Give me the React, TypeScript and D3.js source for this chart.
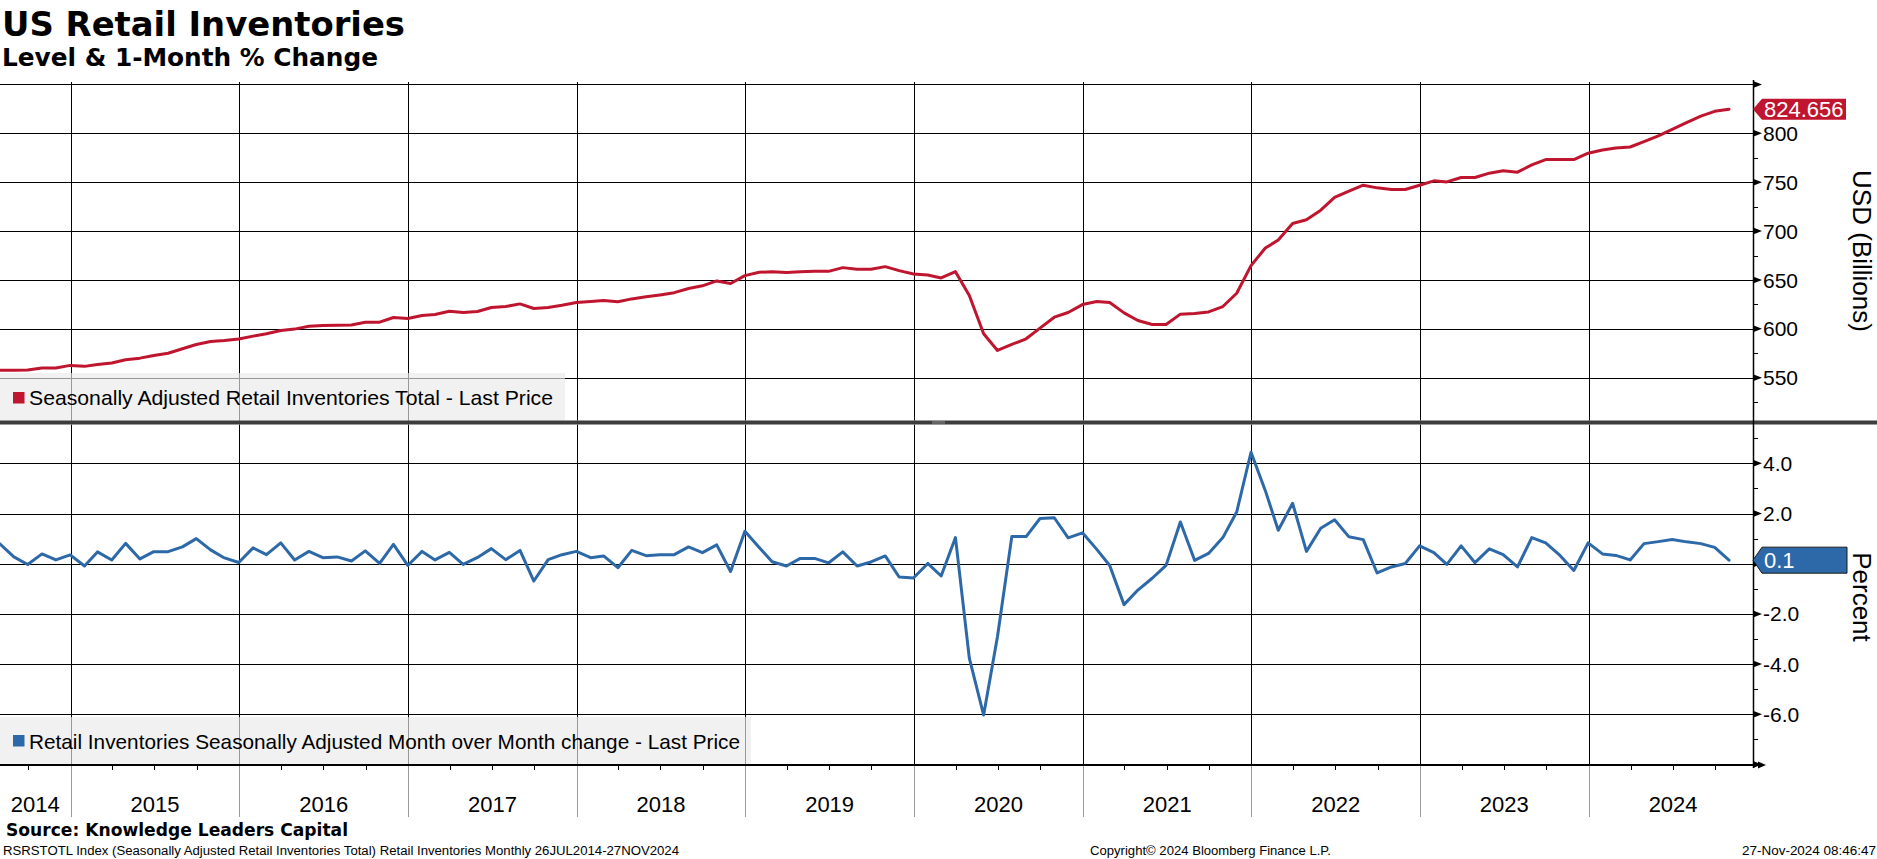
import React from "react";
import * as d3 from "d3";

// ---------------- DATA ----------------
const START_YEAR = 2014;
const START_MONTH = 6; // July (0-based), monthly points at month end

// Seasonally Adjusted Retail Inventories Total (USD billions), Jul 2014 – Oct 2024
const levelValues: number[] = [
  // 2014 Jul–Dec
  557.5, 557.5, 557.8, 560.0, 560.0, 562.6,
  // 2015
  561.6, 563.6, 565.0, 568.4, 570.0, 572.8, 575.0, 579.6, 584.0, 587.0, 588.0, 589.5,
  // 2016
  592.5, 595.0, 598.3, 599.7, 602.7, 603.4, 603.7, 604.0, 606.8, 606.8, 611.6, 610.5,
  // 2017
  613.6, 614.6, 618.0, 616.7, 617.7, 621.8, 622.8, 625.5, 620.8, 621.8, 624.1, 626.9,
  // 2018
  627.9, 628.9, 627.6, 630.6, 632.7, 634.7, 637.0, 641.2, 644.0, 649.0, 646.3, 654.4,
  // 2019
  657.8, 658.5, 657.5, 658.5, 658.8, 658.8, 662.6, 660.9, 660.9, 663.6, 659.5, 656.1,
  // 2020
  655.1, 652.0, 658.5, 634.0, 594.9, 577.9, 584.0, 589.8, 600.7, 611.9, 616.7, 624.8,
  // 2021
  627.9, 626.9, 616.3, 608.5, 604.4, 604.4, 615.0, 615.6, 617.3, 622.8, 636.4, 664.6,
  // 2022
  682.7, 690.8, 707.8, 711.6, 721.4, 734.4, 740.8, 746.9, 744.2, 742.5, 742.5, 746.9,
  // 2023
  751.4, 750.3, 754.8, 754.8, 759.2, 761.6, 760.2, 767.7, 773.1, 773.1, 773.1, 779.6,
  // 2024 Jan–Oct
  783.0, 785.0, 786.0, 791.5, 797.3, 804.0, 811.0, 817.5, 822.5, 824.656,
];

// Retail Inventories SA month-over-month change (%), Jul 2014 – Oct 2024
const momValues: number[] = [
  // 2014 Jul–Dec
  0.80, 0.27, -0.03, 0.39, 0.15, 0.35,
  // 2015
  -0.09, 0.47, 0.15, 0.81, 0.19, 0.48, 0.48, 0.67, 1.00, 0.55, 0.23, 0.05,
  // 2016
  0.63, 0.36, 0.83, 0.15, 0.49, 0.24, 0.27, 0.11, 0.51, 0.01, 0.77, -0.07,
  // 2017
  0.49, 0.15, 0.45, -0.03, 0.25, 0.60, 0.16, 0.53, -0.69, 0.16, 0.36, 0.49,
  // 2018
  0.24, 0.31, -0.16, 0.53, 0.32, 0.36, 0.36, 0.67, 0.44, 0.75, -0.31, 1.29,
  // 2019
  0.65, 0.08, -0.09, 0.21, 0.21, 0.03, 0.47, -0.09, 0.07, 0.31, -0.53, -0.57,
  // 2020
  0.01, -0.49, 1.04, -3.76, -6.03, -2.90, 1.08, 1.08, 1.80, 1.83, 1.03, 1.23,
  // 2021
  0.57, -0.07, -1.63, -1.05, -0.58, -0.07, 1.66, 0.13, 0.41, 1.04, 2.06, 4.44,
  // 2022
  2.91, 1.33, 2.41, 0.49, 1.41, 1.75, 1.07, 0.96, -0.37, -0.13, 0.01, 0.71,
  // 2023
  0.44, -0.03, 0.71, 0.04, 0.59, 0.36, -0.13, 1.04, 0.83, 0.33, -0.27, 0.83,
  // 2024 Jan–Oct
  0.39, 0.33, 0.15, 0.80, 0.88, 0.96, 0.87, 0.80, 0.65, 0.14,
];

const yearLabels = ["2014", "2015", "2016", "2017", "2018", "2019", "2020", "2021", "2022", "2023", "2024"];
const levelTicks = [550, 600, 650, 700, 750, 800, 850];
const levelMinorTicks = [525, 575, 625, 675, 725, 775, 825];
const momTicks = [-8, -6, -4, -2, 0, 2, 4];
const momMinorTicks = [-7, -5, -3, -1, 1, 3, 5];

const TITLE = "US Retail Inventories";
const SUBTITLE = "Level & 1-Month % Change";
const LEGEND_TOP = "Seasonally Adjusted Retail Inventories Total - Last Price";
const LEGEND_BOTTOM = "Retail Inventories Seasonally Adjusted Month over Month change - Last Price";
const AXIS_TOP = "USD (Billions)";
const AXIS_BOTTOM = "Percent";
const SOURCE = "Source: Knowledge Leaders Capital";
const FOOT_LEFT = "RSRSTOTL Index (Seasonally Adjusted Retail Inventories Total) Retail Inventories  Monthly 26JUL2014-27NOV2024";
const FOOT_MID = "Copyright\u00A9 2024 Bloomberg Finance L.P.";
const FOOT_RIGHT = "27-Nov-2024 08:46:47";

// ---------------- STYLE ----------------
const RED = "#c0152f";
const BLUE = "#2d69a8";
const SANS = "'Liberation Sans', Arial, sans-serif";
const BOLD = "'DejaVu Sans', Verdana, sans-serif";

export default function App() {
  const W = 1877;
  const H = 859;
  const AX = 1753; // right axis x

  const top = { y0: 80, y1: 420.5 };
  const bot = { y0: 424.5, y1: 764 };

  const dates = levelValues.map((_, i) => new Date(START_YEAR, START_MONTH + i + 1, 0));

  const x = d3
    .scaleTime()
    .domain([new Date(2014, 7, 1), new Date(2024, 11, 22)])
    .range([0, AX]);

  const yTop = d3.scaleLinear().domain([550, 800]).range([377.7, 133.3]);
  const yBot = d3.scaleLinear().domain([-6, 4]).range([714.3, 463.3]);

  const lineTop = d3
    .line<number>()
    .x((_, i) => x(dates[i]))
    .y((d) => yTop(d));
  const lineBot = d3
    .line<number>()
    .x((_, i) => x(dates[i]))
    .y((d) => yBot(d));

  const yearStarts = yearLabels.map((y) => new Date(+y, 0, 1));
  const yearLines = yearStarts.map((d) => x(d)).filter((v) => v > 0 && v < AX);
  const yearLabelPos = yearLabels.map((y) => {
    const a = Math.max(0, x(new Date(+y, 0, 1)));
    const b = x(new Date(+y + 1, 0, 1));
    return { label: y, cx: (a + b) / 2 };
  });
  const quarterTicks = d3
    .timeMonth.every(3)!
    .range(new Date(2014, 6, 1), new Date(2024, 11, 31))
    .filter((d) => d.getMonth() !== 0)
    .map((d) => x(d))
    .filter((v) => v > 0 && v < AX);

  const lastLevel = levelValues[levelValues.length - 1];
  const lastMom = momValues[momValues.length - 1];
  const lastLevelY = yTop(lastLevel);
  const lastMomY = yBot(lastMom);

  const crisp = (v: number) => Math.round(v) + 0.5;

  const arrow = (y: number, key: string) => (
    <path key={key} d={`M${AX},${y - 3.5} L${AX + 9},${y} L${AX},${y + 3.5} Z`} fill="#000" />
  );

  const showLabel = (y: number, p: { y0: number; y1: number }, valueY: number) =>
    y - 10 >= p.y0 && y + 10 <= p.y1 && Math.abs(y - valueY) > 20;

  return (
    <svg
      width={W}
      height={H}
      viewBox={`0 0 ${W} ${H}`}
      style={{ position: "absolute", left: 0, top: 0, display: "block", background: "#fff" }}
    >
      <rect x={0} y={0} width={W} height={H} fill="#fff" />

      {/* Titles */}
      <text x={2} y={36} fontFamily={BOLD} fontWeight="bold" fontSize={34} textLength={403} lengthAdjust="spacingAndGlyphs" fill="#000">
        {TITLE}
      </text>
      <text x={2} y={66} fontFamily={BOLD} fontWeight="bold" fontSize={25} textLength={376} lengthAdjust="spacingAndGlyphs" fill="#000">
        {SUBTITLE}
      </text>

      {/* ---------- TOP PANEL ---------- */}
      {levelTicks.map((t) => {
        const y = yTop(t);
        if (y < top.y0 || y > top.y1) return null;
        return <line key={"gt" + t} x1={0} x2={AX} y1={crisp(y)} y2={crisp(y)} stroke="#000" strokeWidth={1} />;
      })}
      {yearLines.map((v, i) => (
        <line key={"vt" + i} x1={crisp(v)} x2={crisp(v)} y1={82} y2={top.y1} stroke="#000" strokeWidth={1} />
      ))}

      {/* ---------- BOTTOM PANEL ---------- */}
      {momTicks.map((t) => {
        const y = yBot(t);
        if (y < bot.y0 || y > bot.y1 - 2) return null;
        return <line key={"gb" + t} x1={0} x2={AX} y1={crisp(y)} y2={crisp(y)} stroke="#000" strokeWidth={1} />;
      })}
      {yearLines.map((v, i) => (
        <line key={"vb" + i} x1={crisp(v)} x2={crisp(v)} y1={bot.y0} y2={bot.y1} stroke="#000" strokeWidth={1} />
      ))}

      {/* data lines */}
      <path d={lineTop(levelValues) || ""} fill="none" stroke={RED} strokeWidth={3} strokeLinejoin="round" strokeLinecap="round" />
      <path d={lineBot(momValues) || ""} fill="none" stroke={BLUE} strokeWidth={3} strokeLinejoin="round" strokeLinecap="round" />

      {/* legends */}
      <rect x={0} y={373} width={565} height={47.5} fill="#e9e9e9" fillOpacity={0.65} />
      <rect x={13} y={392} width={11.5} height={11.5} fill={RED} />
      <text x={29} y={405} fontFamily={SANS} fontSize={21} textLength={524} lengthAdjust="spacingAndGlyphs" fill="#000">
        {LEGEND_TOP}
      </text>

      <rect x={0} y={717} width={751} height={49} fill="#e9e9e9" fillOpacity={0.65} />
      <rect x={13} y={735} width={11.5} height={11.5} fill={BLUE} />
      <text x={29} y={749} fontFamily={SANS} fontSize={21} textLength={711} lengthAdjust="spacingAndGlyphs" fill="#000">
        {LEGEND_BOTTOM}
      </text>

      {/* separator */}
      <rect x={0} y={420.5} width={W} height={4} fill="#3d3d3d" />
      {[421.7, 422.9, 424.1].map((yy, i) => (
        <line key={"h" + i} x1={932} x2={945} y1={yy} y2={yy} stroke="#9a9a9a" strokeWidth={0.6} />
      ))}

      {/* bottom x axis */}
      <line x1={0} x2={AX + 7} y1={765} y2={765} stroke="#000" strokeWidth={2} />
      <path d={`M${AX + 5},${761.5} L${AX + 13},${765} L${AX + 5},${768.5} Z`} fill="#000" />
      {quarterTicks.map((v, i) => (
        <line key={"q" + i} x1={crisp(v)} x2={crisp(v)} y1={766} y2={770} stroke="#000" strokeWidth={1} />
      ))}
      {yearLines.map((v, i) => (
        <line key={"ys" + i} x1={crisp(v)} x2={crisp(v)} y1={766} y2={817} stroke="#9a9a9a" strokeWidth={1} />
      ))}
      {yearLabelPos.map((d) => (
        <text key={"yl" + d.label} x={d.cx} y={812} textAnchor="middle" fontFamily={SANS} fontSize={22} fill="#000">
          {d.label}
        </text>
      ))}

      {/* right axis */}
      <line x1={AX + 0.5} x2={AX + 0.5} y1={top.y0} y2={768} stroke="#000" strokeWidth={1.5} />
      {levelTicks.map((t) => {
        const y = yTop(t);
        if (y < top.y0 || y > top.y1) return null;
        return arrow(y, "at" + t);
      })}
      {levelMinorTicks.map((t) => {
        const y = yTop(t);
        if (y < top.y0 || y > top.y1) return null;
        return <line key={"mt" + t} x1={AX} x2={AX + 5} y1={crisp(y)} y2={crisp(y)} stroke="#000" strokeWidth={1} />;
      })}
      {levelTicks.map((t) => {
        const y = yTop(t);
        if (!showLabel(y, top, lastLevelY)) return null;
        return (
          <text key={"lt" + t} x={1763} y={y} dy="0.36em" fontFamily={SANS} fontSize={21} fill="#000">
            {d3.format("d")(t)}
          </text>
        );
      })}

      {momTicks.map((t) => {
        const y = yBot(t);
        if (y < bot.y0 || y > bot.y1 + 2) return null;
        return arrow(y, "ab" + t);
      })}
      {momMinorTicks.map((t) => {
        const y = yBot(t);
        if (y < bot.y0 || y > bot.y1) return null;
        return <line key={"mb" + t} x1={AX} x2={AX + 5} y1={crisp(y)} y2={crisp(y)} stroke="#000" strokeWidth={1} />;
      })}
      {momTicks.map((t) => {
        const y = yBot(t);
        if (!showLabel(y, bot, lastMomY)) return null;
        return (
          <text key={"lb" + t} x={1763} y={y} dy="0.36em" fontFamily={SANS} fontSize={21} fill="#000">
            {d3.format(".1f")(t).replace("\u2212", "-")}
          </text>
        );
      })}

      {/* last value labels */}
      <path
        d={`M${AX},${lastLevelY} L${AX + 9},${lastLevelY - 10.5} L1846,${lastLevelY - 10.5} L1846,${lastLevelY + 10.5} L${AX + 9},${lastLevelY + 10.5} Z`}
        fill={RED}
      />
      <text x={1764} y={lastLevelY} dy="0.36em" fontFamily={SANS} fontSize={22} fill="#fff">
        {d3.format(".3f")(lastLevel)}
      </text>

      <path
        d={`M${AX},${lastMomY} L${AX + 9},${lastMomY - 13} L1847,${lastMomY - 13} L1847,${lastMomY + 13} L${AX + 9},${lastMomY + 13} Z`}
        fill={BLUE}
        stroke="#1a1a1a"
        strokeWidth={1}
      />
      <text x={1764} y={lastMomY} dy="0.36em" fontFamily={SANS} fontSize={22} fill="#fff">
        {d3.format(".1f")(lastMom)}
      </text>

      {/* axis titles */}
      <text
        transform={`translate(1862,251) rotate(90)`}
        textAnchor="middle"
        dy="0.36em"
        fontFamily={SANS}
        fontSize={26}
        fill="#000"
      >
        {AXIS_TOP}
      </text>
      <text
        transform={`translate(1862,597) rotate(90)`}
        textAnchor="middle"
        dy="0.36em"
        fontFamily={SANS}
        fontSize={26}
        fill="#000"
      >
        {AXIS_BOTTOM}
      </text>

      {/* footer */}
      <text x={6} y={836} fontFamily={BOLD} fontWeight="bold" fontSize={17} textLength={342} lengthAdjust="spacingAndGlyphs" fill="#000">
        {SOURCE}
      </text>
      <text x={3} y={855} fontFamily={SANS} fontSize={12.5} textLength={676} lengthAdjust="spacingAndGlyphs" fill="#000">
        {FOOT_LEFT}
      </text>
      <text x={1090} y={855} fontFamily={SANS} fontSize={12.5} textLength={241} lengthAdjust="spacingAndGlyphs" fill="#000">
        {FOOT_MID}
      </text>
      <text x={1742} y={855} fontFamily={SANS} fontSize={12.5} textLength={134} lengthAdjust="spacingAndGlyphs" fill="#000">
        {FOOT_RIGHT}
      </text>
    </svg>
  );
}
